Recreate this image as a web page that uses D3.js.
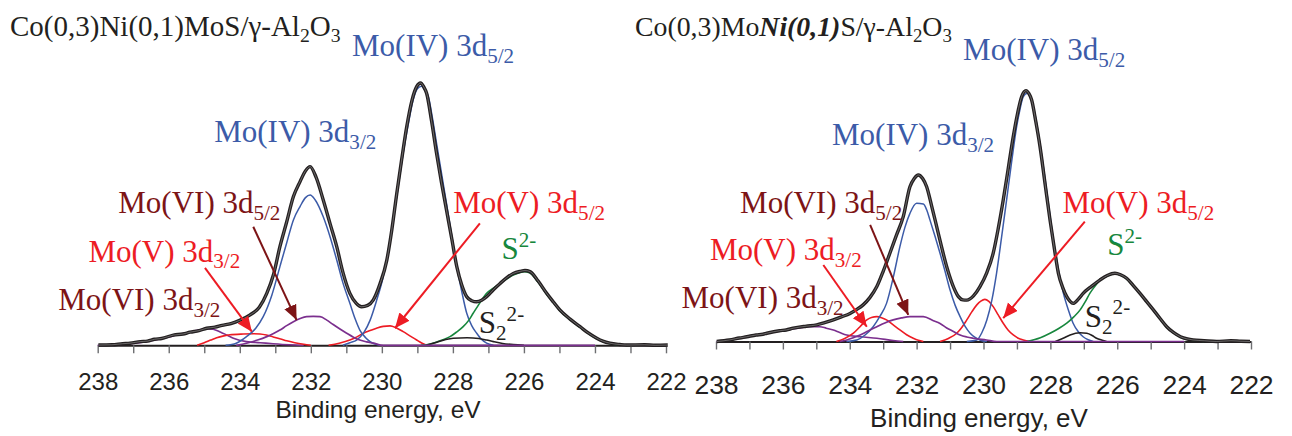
<!DOCTYPE html>
<html><head><meta charset="utf-8">
<script src="https://cdn.jsdelivr.net/npm/d3@7"></script>
<style>body{margin:0;background:#fff}svg{display:block}</style>
</head><body>
<svg id="c" width="1292" height="436"></svg>
<script>
// ---------- DATA ----------
const energyTicks = d3.range(222, 239);               // minor ticks every 1 eV
const tickLabels = ["222","224","226","228","230","232","234","236","238"];
const axisTitle = "Binding energy, eV";

// Left panel: Co(0,3)Ni(0,1)MoS/γ-Al2O3  [binding energy, relative intensity]
const leftEnvelope = [[237.98,0.1],[237.6,0.2],[237.3,0.6],[237.09,0.8],[236.8,1.4],[236.6,1.6],[236.4,2.3],[236.2,2.6],[235.87,3.9],[235.6,4.3],[235.4,5.0],[235.15,5.6],[234.93,6.5],[234.7,6.9],[234.5,7.6],[234.25,8.3],[233.99,9.6],[233.71,11.6],[233.45,14.5],[233.24,19.8],[233.05,27],[232.87,37.6],[232.68,47],[232.49,56.7],[232.3,62.5],[232.15,66.5],[232.02,68.1],[231.85,64],[231.65,55.4],[231.45,46],[231.27,37.6],[231.1,28],[230.9,19.8],[230.72,16],[230.57,14.7],[230.4,15.2],[230.24,17.3],[230.05,23.5],[229.86,32.5],[229.72,44],[229.58,57.9],[229.44,71],[229.3,83.3],[229.15,93.5],[229.02,98.6],[228.91,100],[228.82,98.5],[228.74,96.1],[228.6,85.5],[228.46,73.2],[228.32,62],[228.18,51.6],[228.03,40.5],[227.89,30],[227.75,23],[227.61,18.5],[227.47,17],[227.33,16.6],[227.19,17.2],[227.05,18.5],[226.86,21.2],[226.67,23.6],[226.48,25.8],[226.3,27.4],[226.1,28.2],[225.97,28.5],[225.83,28.1],[225.6,24.5],[225.36,19.8],[225.17,16.5],[224.99,13.5],[224.7,10],[224.42,7.1],[224.2,4.8],[223.95,2.7],[223.78,1.6],[223.58,0.8],[223.3,0.3],[223.11,0.1],[222.6,0.2],[222.3,0],[221.95,0.1]];
const leftMoIV32 = [[234.4,0],[234.1,0.8],[233.81,3.3],[233.55,6.5],[233.34,10.9],[233.1,19],[232.87,30],[232.68,39],[232.49,47.8],[232.3,53],[232.15,56.3],[232.02,57.3],[231.88,55.5],[231.65,49],[231.45,41],[231.27,32.5],[231.1,24],[230.9,16],[230.75,10],[230.62,5.8],[230.45,2.8],[230.33,1.4],[230.05,0]];
const leftMoIV52 = [[231.1,0],[230.9,1],[230.71,2],[230.5,5],[230.33,9.6],[230.15,17],[229.96,26.2],[229.82,36],[229.68,47.8],[229.54,60.5],[229.4,73.2],[229.26,84],[229.12,93.5],[229.0,97.8],[228.88,98.8],[228.78,97],[228.69,94.8],[228.58,87],[228.46,77],[228.32,65.5],[228.18,54.1],[228.03,41.5],[227.89,30],[227.75,20.5],[227.61,12.2],[227.47,7.5],[227.33,4.6],[227.19,2.2],[227.05,0.8],[226.86,0]];
const leftMoV32 = [[235.2,0],[235.0,1.0],[234.82,2.0],[234.65,2.9],[234.45,3.6],[234.28,4.0],[233.9,4.3],[233.6,4.4],[233.43,4.3],[233.25,3.9],[233.06,3.2],[232.85,2.4],[232.68,1.7],[232.45,1.0],[232.2,0.4],[232.0,0]];
const leftMoV52 = [[231.5,0],[231.2,0.8],[230.9,2],[230.7,3.2],[230.52,4.6],[230.33,5.6],[230.15,6.5],[229.96,7.2],[229.77,7.4],[229.6,6.7],[229.4,5.2],[229.2,3.5],[229.02,2],[228.88,0.9],[228.74,0]];
const leftMoVI32 = [[238.0,0],[237.5,0.2],[237.09,0.6],[236.6,1.5],[236.2,2.5],[235.87,3.6],[235.5,4.8],[235.2,5.7],[234.93,6.3],[234.75,6.1],[234.55,5.1],[234.35,3.8],[234.18,2.7],[233.81,1.4],[233.43,1.0],[233.06,0.6],[232.6,0.2],[232.2,0]];
const leftMoVI52 = [[234.1,0],[233.81,0.8],[233.5,2.0],[233.24,3.3],[233.05,4.5],[232.87,5.8],[232.68,7.5],[232.49,9.0],[232.3,10.2],[232.12,10.9],[231.93,11.0],[231.74,10.9],[231.55,9.6],[231.37,7.9],[231.18,6.2],[230.99,4.6],[230.8,3.1],[230.62,2.0],[230.43,1.3],[230.24,0.8],[229.96,0],[224.0,0]];
const leftS = [[228.9,0],[228.64,0.5],[228.3,2],[228.08,3.3],[227.9,5],[227.71,7.1],[227.55,9.6],[227.43,12.2],[227.25,16],[227.05,19.8],[226.86,21.8],[226.67,23.6],[226.48,25.3],[226.3,26.8],[226.1,27.8],[226.0,28.1],[225.83,27.6],[225.6,24],[225.36,19.4],[225.17,16.2],[224.99,13.2],[224.7,9.7],[224.42,6.8],[224.2,4.6],[223.95,2.5],[223.58,0.6],[223.11,0]];
const leftS2 = [[228.75,0],[228.45,1.2],[228.2,2.2],[227.99,2.7],[227.6,2.9],[227.27,2.6],[227.05,2.0],[226.86,1.4],[226.6,0.7],[226.3,0.3],[226.0,0]];

// Right panel: Co(0,3)MoNi(0,1)S/γ-Al2O3
const rightEnvelope = [[237.98,0],[237.6,0.6],[237.3,1.4],[237.08,1.9],[236.8,2.6],[236.6,2.9],[236.48,3.3],[236.1,4.3],[235.9,4.6],[235.69,5.3],[235.3,6.1],[234.99,6.6],[234.75,7.5],[234.49,8.6],[234.25,9.8],[233.99,11.2],[233.8,12.7],[233.6,14.6],[233.4,17.5],[233.19,21.9],[233.0,28],[232.8,35.2],[232.6,42.5],[232.4,49.8],[232.2,61.7],[232.07,65],[231.95,66.4],[231.82,65],[231.7,61.7],[231.55,54],[231.4,45.8],[231.25,37.5],[231.1,29.8],[230.92,22.5],[230.75,17.9],[230.62,16.6],[230.5,16.5],[230.3,18.2],[230.11,21.8],[229.9,27.5],[229.71,35.2],[229.56,45],[229.41,56.4],[229.26,69],[229.11,81.7],[228.98,91],[228.86,97.6],[228.73,100],[228.64,98.8],[228.56,96.3],[228.44,88],[228.31,77.7],[228.16,63],[228.01,48.4],[227.88,37],[227.76,27.2],[227.63,21.5],[227.51,17.9],[227.41,16],[227.32,15.2],[227.17,16.8],[227.02,19.2],[226.77,22],[226.52,24.5],[226.3,26.3],[226.07,27.2],[225.9,26.6],[225.72,25.2],[225.52,22.3],[225.32,19.2],[225.12,15.9],[224.92,12.6],[224.72,9.2],[224.52,5.9],[224.32,3.6],[224.11,1.9],[223.9,1.0],[223.73,0.6],[223.4,0.3],[223.03,0],[222.6,0.3],[222.3,0.1],[222.03,0]];
const rightMoIV32 = [[234.1,0],[233.79,0.6],[233.55,2.5],[233.3,5.9],[233.1,10],[232.9,15.2],[232.7,25.5],[232.5,37.8],[232.35,45.5],[232.2,51.1],[232.0,55.1],[231.8,54.8],[231.7,52.5],[231.6,48.4],[231.45,42],[231.3,35.2],[231.15,28],[231.0,20.5],[230.85,14.5],[230.7,9.9],[230.55,6],[230.4,3.3],[230.25,1.6],[230.11,0.6],[229.9,0]];
const rightMoIV52 = [[230.5,0],[230.2,0.6],[230.05,3.5],[229.9,8.6],[229.75,16.5],[229.61,27.2],[229.46,41.5],[229.31,56.4],[229.16,71.5],[229.01,85.6],[228.91,92.5],[228.81,97.6],[228.69,99],[228.6,97.5],[228.51,93.6],[228.36,83],[228.21,69.7],[228.06,55],[227.91,40.5],[227.76,28.5],[227.61,19.2],[227.46,12.5],[227.32,7.3],[227.17,4.0],[227.02,1.9],[226.87,0.7],[226.72,0]];
const rightMoV32 = [[234.4,0],[234.15,1.2],[233.89,3.3],[233.7,5.8],[233.49,8.6],[233.35,9.6],[233.19,9.9],[233.05,9.5],[232.9,8.6],[232.7,6.6],[232.5,4.6],[232.3,2.7],[232.1,1.3],[231.95,0.5],[231.8,0]];
const rightMoV52 = [[231.3,0],[231.05,1.2],[230.8,3.3],[230.65,5.6],[230.5,8.6],[230.35,11.8],[230.2,14.6],[230.08,16.1],[229.96,16.8],[229.84,16.0],[229.71,13.9],[229.56,10.6],[229.41,7.3],[229.26,4.5],[229.11,2.6],[228.96,1.3],[228.81,0.6],[228.6,0]];
const rightMoVI32 = [[237.98,0],[237.6,0.6],[237.08,1.9],[236.48,3.3],[235.9,4.7],[235.5,5.4],[235.2,5.9],[234.89,5.9],[234.7,5.3],[234.49,4.6],[234.3,3.6],[234.09,2.6],[233.69,1.9],[233.19,1.3],[232.7,0.4],[232.4,0]];
const rightMoVI52 = [[234.3,0],[234.09,0.6],[233.9,1.5],[233.69,2.6],[233.45,4.2],[233.19,5.9],[232.95,7.4],[232.7,8.6],[232.45,9.4],[232.2,9.9],[231.8,9.9],[231.5,8.3],[231.3,7.2],[231.1,5.4],[230.9,4.0],[230.7,2.6],[230.5,1.8],[230.31,1.3],[229.91,0.6],[229.6,0],[224.0,0]];
const rightS = [[228.7,0],[228.3,1.5],[228.01,3.3],[227.75,5.2],[227.51,7.3],[227.3,9.8],[227.11,12.6],[226.96,15.8],[226.82,19.2],[226.67,22],[226.52,24.5],[226.37,25.6],[226.22,26.5],[226.07,27.0],[225.9,26.4],[225.72,25.0],[225.52,22.1],[225.32,19.0],[225.12,15.7],[224.92,12.4],[224.72,9.0],[224.52,5.7],[224.32,3.4],[224.11,1.7],[223.9,0.8],[223.73,0.4],[223.4,0]];
const rightS2 = [[227.85,0],[227.6,1.4],[227.41,2.6],[227.11,3.5],[226.91,3.3],[226.75,2.4],[226.62,1.3],[226.45,0.5],[226.32,0]];

// annotations: [energy, intensity] of text start (baseline)
const leftLabels = [
  {name:"MoIV52", pos:[230.84,110.3]}, {name:"MoIV32", pos:[234.72,77.6]},
  {name:"MoVI52", pos:[237.42,50.3]}, {name:"MoV32", pos:[238.26,31.9]},
  {name:"MoVI32", pos:[239.11,13.5]}, {name:"MoV52", pos:[227.99,50.4]},
  {name:"S", pos:[226.63,32.9]}, {name:"S2", pos:[227.27,4.7]}];
const leftArrows = [
  {color:"red", from:[234.98,29.5], to:[233.66,5.2]},
  {color:"dark", from:[233.62,45.2], to:[232.40,9.6]},
  {color:"red", from:[227.24,46.5], to:[229.63,6.5]}];
const rightLabels = [
  {name:"MoIV52", pos:[230.61,112.2]}, {name:"MoIV32", pos:[234.53,78.3]},
  {name:"MoVI52", pos:[237.28,51.1]}, {name:"MoV32", pos:[238.18,32.5]},
  {name:"MoVI32", pos:[239.03,13.2]}, {name:"MoV52", pos:[227.64,51.1]},
  {name:"S", pos:[226.30,34.5]}, {name:"S2", pos:[226.97,5.9]}];
const rightArrows = [
  {color:"red", from:[234.79,30.5], to:[233.49,5.9]},
  {color:"dark", from:[233.39,46.5], to:[232.25,10.6]},
  {color:"red", from:[226.97,47.8], to:[229.41,9.3]}];

// ---------- STYLE ----------
const C = {black:"#231f20", blue:"#3c5ba8", red:"#ed1c24", dark:"#7d1416", green:"#17873d", purple:"#7b2f8e"};
const SERIF = "'Liberation Serif','Times New Roman',serif";
const SANS = "'Liberation Sans',Arial,sans-serif";
const labelDefs = {
  MoIV52:{color:C.blue, parts:[["Mo(IV) 3d"],["5/2","sub"]]},
  MoIV32:{color:C.blue, parts:[["Mo(IV) 3d"],["3/2","sub"]]},
  MoVI52:{color:C.dark, parts:[["Mo(VI) 3d"],["5/2","sub"]]},
  MoVI32:{color:C.dark, parts:[["Mo(VI) 3d"],["3/2","sub"]]},
  MoV32:{color:C.red, parts:[["Mo(V) 3d"],["3/2","sub"]]},
  MoV52:{color:C.red, parts:[["Mo(V) 3d"],["5/2","sub"]]},
  S:{color:C.green, parts:[["S"],["2-","sup"]]},
  S2:{color:C.black, parts:[["S"],["2","sub"],["2-","sup"]]}
};

const svg = d3.select("#c");
svg.append("rect").attr("width",1292).attr("height",436).attr("fill","#fff");
const defs = svg.append("defs");
[["red",C.red],["dark",C.dark]].forEach(([k,c])=>{
  defs.append("marker").attr("id","ah-"+k).attr("markerUnits","userSpaceOnUse")
    .attr("markerWidth",16).attr("markerHeight",14).attr("refX",15).attr("refY",6.5)
    .attr("orient","auto").append("path").attr("d","M0,0 L15,6.5 L0,13 Z").attr("fill",c);
});

function richText(g, x, y, parts, size, color, family){
  const t = g.append("text").attr("x",x).attr("y",y).attr("font-family",family)
    .attr("font-size",size).attr("fill",color);
  let off = 0;
  parts.forEach(p=>{
    const [s, kind, style] = p;
    let target = 0, fs = size;
    if (kind==="sub"){ target = 0.22*size; fs = 0.68*size; }
    else if (kind==="sup"){ target = -0.40*size; fs = 0.68*size; }
    const ts = t.append("tspan").attr("dy", target-off).attr("font-size",fs).text(s);
    if (style==="bi") ts.attr("font-weight","bold").attr("font-style","italic");
    off = target;
  });
  return t;
}

function panel(cfg){
  const x = d3.scaleLinear().domain([238,222]).range(cfg.xr);
  const y = d3.scaleLinear().domain([0,100]).range(cfg.yr);
  const g = svg.append("g");
  const ax = d3.axisBottom(x).tickValues(energyTicks).tickSize(8).tickSizeOuter(0)
    .tickFormat(d => tickLabels.includes(String(d)) ? String(d) : "");
  const ag = g.append("g").attr("transform",`translate(0,${cfg.yr[0]})`).call(ax);
  ag.select(".domain").attr("stroke",C.black).attr("stroke-width",2);
  ag.selectAll(".tick line").attr("stroke","#6d6e71").attr("stroke-width",1.4);
  ag.selectAll(".tick text").attr("y",cfg.tickY).attr("dy",0)
    .attr("font-family",SANS).attr("font-size",cfg.tickFs).attr("fill",C.black);
  g.append("text").attr("x",cfg.titleX).attr("y",cfg.titleY).attr("text-anchor","middle")
    .attr("font-family",SANS).attr("font-size",cfg.titleFs).attr("fill",C.black).text(axisTitle);

  const line = d3.line().x(d=>x(d[0])).y(d=>y(d[1])).curve(d3.curveMonotoneX);
  const draw = (data,color,w)=> g.append("path").datum(data).attr("d",line)
    .attr("fill","none").attr("stroke",color).attr("stroke-width",w).attr("stroke-linejoin","round");
  draw(cfg.s.MoVI32,C.purple,1.6);
  draw(cfg.s.MoV32,C.red,1.6);
  draw(cfg.s.MoV52,C.red,1.6);
  draw(cfg.s.MoIV32,C.blue,1.5);
  draw(cfg.s.MoIV52,C.blue,1.5);
  draw(cfg.s.S,C.green,1.6);
  draw(cfg.s.S2,C.black,1.6);
  draw(cfg.s.MoVI52,C.purple,1.7);
  draw(cfg.s.env,C.black,3.4);
  draw(cfg.s.env,"#fff",0.6).attr("stroke-opacity",0.55);

  cfg.arrows.forEach(a=>{
    g.append("line").attr("x1",x(a.from[0])).attr("y1",y(a.from[1]))
      .attr("x2",x(a.to[0])).attr("y2",y(a.to[1]))
      .attr("stroke", a.color==="red"?C.red:C.dark).attr("stroke-width",2)
      .attr("marker-end",`url(#ah-${a.color})`);
  });
  cfg.labels.forEach(l=>{
    const d = labelDefs[l.name];
    richText(g, x(l.pos[0]), y(l.pos[1]), d.parts, 31, d.color, SERIF);
  });
  richText(g, cfg.headX, 36, cfg.head, cfg.headFs, C.black, SERIF);
}

panel({xr:[97.7,666], yr:[345.3,83], tickY:45, tickFs:24, titleX:378, titleY:417.5, titleFs:24.5,
  headX:10, headFs:29, head:[["Co(0,3)Ni(0,1)MoS/γ-Al"],["2","sub"],["O"],["3","sub"]],
  s:{env:leftEnvelope,MoIV32:leftMoIV32,MoIV52:leftMoIV52,MoV32:leftMoV32,MoV52:leftMoV52,
     MoVI32:leftMoVI32,MoVI52:leftMoVI52,S:leftS,S2:leftS2},
  labels:leftLabels, arrows:leftArrows});
panel({xr:[716,1251], yr:[341.5,90.7], tickY:52, tickFs:26.5, titleX:979, titleY:427, titleFs:26,
  headX:635, headFs:27.8, head:[["Co(0,3)Mo"],["Ni(0,1)",null,"bi"],["S/γ-Al"],["2","sub"],["O"],["3","sub"]],
  s:{env:rightEnvelope,MoIV32:rightMoIV32,MoIV52:rightMoIV52,MoV32:rightMoV32,MoV52:rightMoV52,
     MoVI32:rightMoVI32,MoVI52:rightMoVI52,S:rightS,S2:rightS2},
  labels:rightLabels, arrows:rightArrows});
</script>
</body></html>
